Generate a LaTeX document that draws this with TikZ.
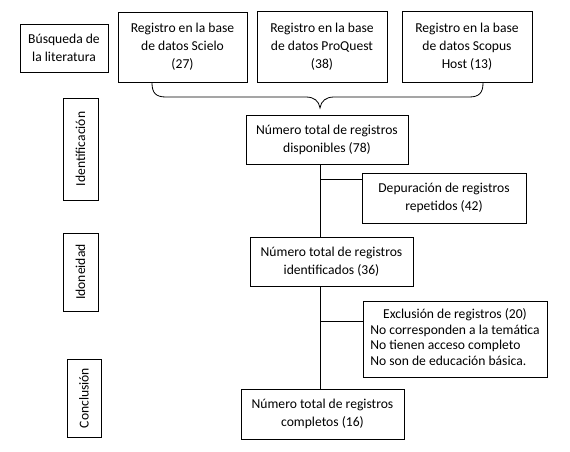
\documentclass[tikz,border=0pt]{standalone}
\usepackage{fontspec}
\setmainfont{Carlito}
\begin{document}
\begin{tikzpicture}[x=1pt,y=-1pt,
  bx/.style={draw, line width=0.8pt, inner sep=0pt, align=center, font=\fontsize{13.6}{18}\selectfont},
  ln/.style={line width=0.8pt}]
\useasboundingbox[fill=white] (0,0) rectangle (570,451);
\newcommand{\bxat}[6]{\node[bx, minimum width=#4-#2, minimum height=#5-#3] (#1) at ({(#2+#4)/2},{(#3+#5)/2}) {#6};}
\bxat{busq}{20}{24}{108}{72}{Búsqueda de\\la literatura}
\bxat{scielo}{118}{12}{247}{82}{Registro en la base\\de datos Scielo\\(27)}
\bxat{proq}{257}{11}{387}{82}{Registro en la base\\de datos ProQuest\\(38)}
\bxat{scop}{402}{11}{532}{82}{Registro en la base\\de datos Scopus\\Host (13)}
\bxat{ident}{63}{98}{98}{200}{\rotatebox{90}{Identificación}}
\bxat{idon}{63}{233}{98}{311}{\rotatebox{90}{Idoneidad}}
\bxat{concl}{67}{359}{101}{437}{\rotatebox{90}{Conclusión}}
\bxat{disp}{246}{115}{408}{164}{Número total de registros\\disponibles (78)}
\bxat{dep}{362}{173}{526}{223}{Depuración de registros\\repetidos (42)}
\bxat{idf}{250}{237}{413}{286}{Número total de registros\\identificados (36)}
\bxat{excl}{363}{301}{547}{377}{\def\arraystretch{0.86}\begin{tabular}{@{}l@{}}\multicolumn{1}{@{}c@{}}{Exclusión de registros (20)}\\No corresponden a la temática\\No tienen acceso completo\\No son de educación básica.\end{tabular}}
\bxat{comp}{241}{389}{404}{439}{Número total de registros\\completos (16)}
% brace
\coordinate (bl) at (152,83);
\coordinate (br) at (483,83);
\coordinate (tip) at (320,108);
\draw[ln] (bl) .. controls (152,93) and (156,97) .. (166,97) -- (306,97)
  .. controls (314,97) and (319,101) .. (tip)
  .. controls (321,101) and (326,97) .. (334,97) -- (469,97)
  .. controls (479,97) and (483,93) .. (br);
% main line
\draw[ln] (disp.south -| tip) -- (idf.north -| tip);
\draw[ln] (idf.south -| tip) -- (comp.north -| tip);
\coordinate (j1) at (320,179);
\coordinate (j2) at (320,321);
\draw[ln] (j1) -- (j1 -| dep.west);
\draw[ln] (j2) -- (j2 -| excl.west);
\end{tikzpicture}
\end{document}
